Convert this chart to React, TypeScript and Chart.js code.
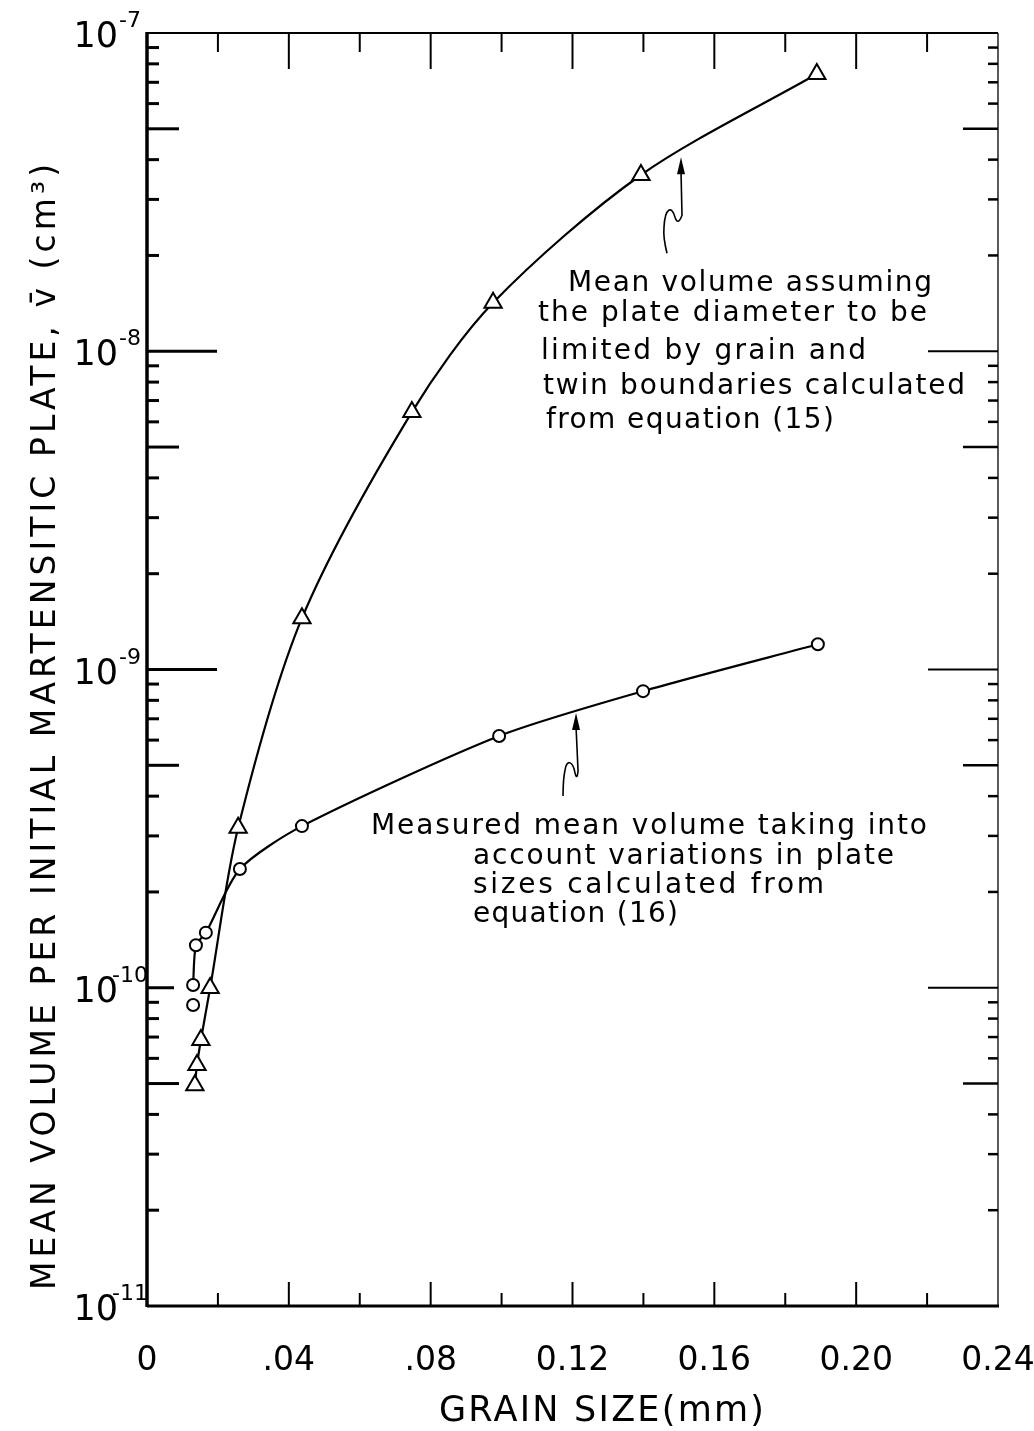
import React, { useEffect, useRef } from "react";
import { Chart, registerables } from "chart.js";

Chart.register(...registerables);

// ---- data (grain size in mm, mean volume in cm^3) ----
const triangleGrain = [0.0135, 0.0141, 0.0152, 0.0178, 0.0257, 0.0437, 0.0747, 0.0976, 0.1393, 0.1889];
const triangleVolume = [4.94e-11, 5.72e-11, 6.85e-11, 9.98e-11, 3.18e-10, 1.45e-9, 6.44e-9, 1.42e-8, 3.58e-8, 7.43e-8];
const circleGrain = [0.013, 0.0138, 0.0166, 0.0262, 0.0437, 0.0993, 0.1399, 0.1892];
const circleVolume = [1.02e-10, 1.36e-10, 1.49e-10, 2.36e-10, 3.22e-10, 6.18e-10, 8.55e-10, 1.2e-9];
const strayCircleGrain = [0.013];
const strayCircleVolume = [8.83e-11];

// ---- axes ----
const xMajorTicks = [0, 0.04, 0.08, 0.12, 0.16, 0.2, 0.24];
const xTickLabels = ["0", ".04", ".08", "0.12", "0.16", "0.20", "0.24"];
const xMinorTicks = [0.02, 0.06, 0.1, 0.14, 0.18, 0.22];
const yDecadeExponents = [-7, -8, -9, -10, -11];
const yMinorMultipliers = [2, 3, 4, 5, 6, 7, 8, 9];

// ---- text ----
const xTitle = "GRAIN SIZE(mm)";
const yTitle = "MEAN VOLUME PER INITIAL MARTENSITIC PLATE, v\u0304 (cm\u00b3)";
const note15 = ["Mean volume assuming", "the plate diameter to be", "limited by grain and", "twin boundaries calculated", "from equation (15)"];
const note16 = ["Measured mean volume taking into", "account variations in plate", "sizes calculated from", "equation (16)"];
const arrow15Tip = { x: 0.1506, y: 4.07e-8 };
const arrow16Tip = { x: 0.121, y: 7.3e-10 };

const FONT = '"DejaVu Sans", sans-serif';

function fitText(ctx: CanvasRenderingContext2D, text: string, x: number, y: number, width: number) {
  (ctx as any).letterSpacing = "0px";
  ctx.textAlign = "left";
  const w = ctx.measureText(text).width;
  if (w >= width) {
    ctx.fillText(text, x, y, width);
    return;
  }
  const n = Array.from(text).length;
  const sp = (width - w) / Math.max(1, n - 1);
  (ctx as any).letterSpacing = sp.toFixed(2) + "px";
  ctx.fillText(text, x, y);
  (ctx as any).letterSpacing = "0px";
}

function drawArrow(ctx: CanvasRenderingContext2D, tx: number, ty: number, path: (c: CanvasRenderingContext2D, tx: number, ty: number) => void) {
  ctx.save();
  ctx.strokeStyle = "#000";
  ctx.fillStyle = "#000";
  ctx.lineWidth = 1.6;
  ctx.beginPath();
  path(ctx, tx, ty);
  ctx.stroke();
  ctx.beginPath();
  ctx.moveTo(tx, ty);
  ctx.lineTo(tx - 4, ty + 17);
  ctx.lineTo(tx + 4, ty + 17);
  ctx.closePath();
  ctx.fill();
  ctx.restore();
}

const framePlugin = {
  id: "frame",
  beforeDatasetsDraw(chart: any) {
    const ctx: CanvasRenderingContext2D = chart.ctx;
    const xs = chart.scales.x;
    const ys = chart.scales.y;
    const L = xs.getPixelForValue(0);
    const R = xs.getPixelForValue(0.24);
    const T = ys.getPixelForValue(1e-7);
    const B = ys.getPixelForValue(1e-11);
    ctx.save();
    ctx.strokeStyle = "#000";
    ctx.lineCap = "butt";
    // spines
    ctx.lineWidth = 3.5;
    ctx.beginPath(); ctx.moveTo(L, T - 1); ctx.lineTo(L, B + 1); ctx.stroke();
    ctx.lineWidth = 3;
    ctx.beginPath(); ctx.moveTo(L, B); ctx.lineTo(R + 1, B); ctx.stroke();
    ctx.lineWidth = 2.2;
    ctx.beginPath(); ctx.moveTo(L, T); ctx.lineTo(R, T); ctx.stroke();
    ctx.lineWidth = 1.3;
    ctx.beginPath(); ctx.moveTo(R, T); ctx.lineTo(R, B); ctx.stroke();

    // x ticks
    ctx.lineWidth = 2;
    for (const v of xMajorTicks) {
      const px = xs.getPixelForValue(v);
      if (v > 0 && v < 0.24) {
        ctx.beginPath(); ctx.moveTo(px, B); ctx.lineTo(px, B - 24); ctx.stroke();
        ctx.beginPath(); ctx.moveTo(px, T); ctx.lineTo(px, T + 36); ctx.stroke();
      }
    }
    for (const v of xMinorTicks) {
      const px = xs.getPixelForValue(v);
      ctx.beginPath(); ctx.moveTo(px, B); ctx.lineTo(px, B - 13); ctx.stroke();
      ctx.beginPath(); ctx.moveTo(px, T); ctx.lineTo(px, T + 19); ctx.stroke();
    }
    // y ticks
    for (const e of yDecadeExponents) {
      const py = ys.getPixelForValue(Math.pow(10, e));
      if (e < -7 && e > -11) {
        const leftLen = e === -10 ? 27 : 70;
        ctx.lineWidth = 3;
        ctx.beginPath(); ctx.moveTo(L, py); ctx.lineTo(L + leftLen, py); ctx.stroke();
        ctx.lineWidth = 2;
        ctx.beginPath(); ctx.moveTo(R, py); ctx.lineTo(R - 70, py); ctx.stroke();
      }
      if (e < -7) {
        for (const m of yMinorMultipliers) {
          const my = ys.getPixelForValue(m * Math.pow(10, e));
          ctx.lineWidth = 3;
          ctx.beginPath(); ctx.moveTo(L, my); ctx.lineTo(L + (m === 5 ? 32 : 12), my); ctx.stroke();
          ctx.lineWidth = 2.5;
          ctx.beginPath(); ctx.moveTo(R, my); ctx.lineTo(R - (m === 5 ? 35 : 10), my); ctx.stroke();
        }
      }
    }
    ctx.restore();
  },
  afterDraw(chart: any) {
    const ctx: CanvasRenderingContext2D = chart.ctx;
    const xs = chart.scales.x;
    const ys = chart.scales.y;
    const B = ys.getPixelForValue(1e-11);
    ctx.save();
    ctx.fillStyle = "#000";
    ctx.textBaseline = "alphabetic";

    // y tick labels: 10 with superscript exponent
    for (const e of yDecadeExponents) {
      const py = ys.getPixelForValue(Math.pow(10, e));
      ctx.font = "35px " + FONT;
      ctx.textAlign = "right";
      (ctx as any).letterSpacing = "0px";
      ctx.fillText("10", 118, py + 14);
      ctx.font = "22px " + FONT;
      ctx.textAlign = "left";
      const exp = "-" + String(-e);
      ctx.fillText(exp, exp.length > 2 ? 112 : 119, py - 6);
    }

    // x tick labels
    ctx.font = "33px " + FONT;
    ctx.textAlign = "center";
    xMajorTicks.forEach((v, i) => {
      const px = xs.getPixelForValue(v);
      ctx.fillText(xTickLabels[i], px, B + 64);
    });

    // x title
    ctx.font = "35px " + FONT;
    fitText(ctx, xTitle, 439, 1421, 325);

    // y title (rotated)
    ctx.save();
    ctx.translate(55, 1290);
    ctx.rotate(-Math.PI / 2);
    ctx.font = "33px " + FONT;
    fitText(ctx, yTitle, 0, 0, 1130);
    ctx.restore();

    // annotation for equation (15)
    ctx.font = "28px " + FONT;
    const n15 = [
      [568, 291, 364],
      [538, 321, 389],
      [541, 359, 325],
      [543, 394, 422],
      [546, 428, 288],
    ];
    note15.forEach((t, i) => fitText(ctx, t, n15[i][0], n15[i][1], n15[i][2]));

    const n16 = [
      [371, 834, 556],
      [473, 864, 421],
      [473, 893, 351],
      [473, 922, 205],
    ];
    note16.forEach((t, i) => fitText(ctx, t, n16[i][0], n16[i][1], n16[i][2]));

    // arrows
    const a1x = xs.getPixelForValue(arrow15Tip.x);
    const a1y = ys.getPixelForValue(arrow15Tip.y);
    drawArrow(ctx, a1x, a1y, (c, tx, ty) => {
      c.moveTo(tx - 14, ty + 96);
      c.quadraticCurveTo(tx - 18, ty + 80, tx - 17, ty + 70);
      c.bezierCurveTo(tx - 16, ty + 50, tx - 9, ty + 48, tx - 6, ty + 60);
      c.quadraticCurveTo(tx - 3, ty + 69, tx + 1, ty + 58);
      c.lineTo(tx, ty + 14);
    });
    const a2x = xs.getPixelForValue(arrow16Tip.x);
    const a2y = ys.getPixelForValue(arrow16Tip.y);
    drawArrow(ctx, a2x, a2y, (c, tx, ty) => {
      c.moveTo(tx - 13, ty + 83);
      c.quadraticCurveTo(tx - 13, ty + 66, tx - 11, ty + 57);
      c.bezierCurveTo(tx - 9, ty + 45, tx - 3, ty + 49, tx - 1, ty + 60);
      c.quadraticCurveTo(tx + 1, ty + 68, tx + 2, ty + 58);
      c.lineTo(tx, ty + 14);
    });

    ctx.restore();
  },
};

export default function App() {
  const ref = useRef<HTMLCanvasElement>(null);
  useEffect(() => {
    const canvas = ref.current;
    if (!canvas) return;
    const common = {
      borderColor: "#000",
      borderWidth: 2.2,
      pointBorderColor: "#000",
      pointBackgroundColor: "#fff",
      pointBorderWidth: 2,
    };
    const chart = new Chart(canvas, {
      type: "scatter",
      data: {
        datasets: [
          {
            ...common,
            label: "Mean volume, equation (15)",
            data: triangleGrain.map((x, i) => ({ x, y: triangleVolume[i] })),
            showLine: true,
            tension: 0.3,
            pointStyle: "triangle",
            pointRadius: 10,
          },
          {
            ...common,
            label: "Measured mean volume, equation (16)",
            data: circleGrain.map((x, i) => ({ x, y: circleVolume[i] })),
            showLine: true,
            tension: 0.25,
            pointStyle: "circle",
            pointRadius: 6,
          },
          {
            ...common,
            label: "Measured (unconnected)",
            data: strayCircleGrain.map((x, i) => ({ x, y: strayCircleVolume[i] })),
            showLine: false,
            pointStyle: "circle",
            pointRadius: 6,
          },
        ],
      },
      options: {
        responsive: false,
        animation: false,
        devicePixelRatio: 1,
        events: [],
        layout: { padding: { left: 147, top: 33, right: 36, bottom: 125 } },
        plugins: { legend: { display: false }, tooltip: { enabled: false }, title: { display: false } },
        scales: {
          x: { type: "linear", min: 0, max: 0.24, display: false },
          y: { type: "logarithmic", min: 1e-11, max: 1e-7, display: false },
        },
      },
      plugins: [framePlugin],
    } as any);
    return () => chart.destroy();
  }, []);
  return (
    <div style={{ position: "absolute", left: 0, top: 0, width: 1034, height: 1431, background: "#fff" }}>
      <canvas ref={ref} width={1034} height={1431} style={{ display: "block", width: 1034, height: 1431 }} />
    </div>
  );
}
